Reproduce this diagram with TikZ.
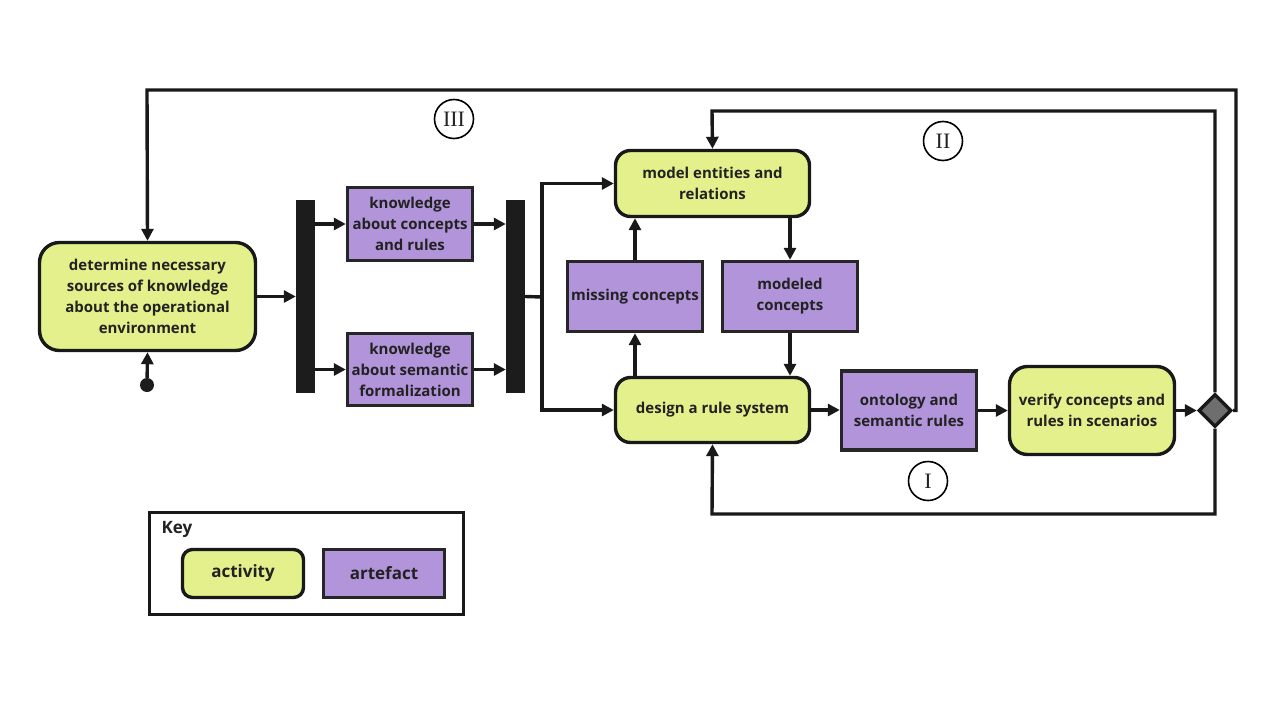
\documentclass[tikz,border=0pt]{standalone}
\usepackage{fontspec}
\setmainfont{Open Sans}
\newfontfamily\numserif{Liberation Serif}
\usetikzlibrary{arrows.meta,shapes.geometric,calc}
\definecolor{actfill}{HTML}{E3F08B}
\definecolor{artfill}{HTML}{B194D9}
\definecolor{txt}{HTML}{222222}
\definecolor{barc}{HTML}{1C1C1C}
\definecolor{diafill}{HTML}{6E6E6E}
\begin{document}
\begin{tikzpicture}[x=1pt,y=-1pt,
  every node/.style={text=txt},
  boxfont/.style={font=\fontsize{15}{21}\selectfont\bfseries},
  keyfont/.style={font=\fontsize{17}{21}\selectfont\bfseries},
  act/.style={boxfont, draw=black!90, line width=3.4pt, fill=actfill, rounded corners=15pt, align=center, inner sep=0pt},
  art/.style={boxfont, draw=black!85, line width=3.4pt, fill=artfill, align=center, inner sep=0pt},
  bar/.style={fill=barc, draw=none, minimum width=19pt, minimum height=193pt, inner sep=0pt},
  flow/.style={line width=3.4pt, draw=black!90, -{Triangle[length=12pt,width=12pt]}},
  plain/.style={line width=3.4pt, draw=black!90},
  num/.style={circle, draw=black, line width=1.6pt, minimum size=39pt, inner sep=0pt, font=\numserif\fontsize{22}{22}\selectfont},
]
\useasboundingbox[fill=white] (0,0) rectangle (1280,720);

% activities
\node[act, minimum width=216pt, minimum height=108pt, rounded corners=20pt] (det) at (147.5,296.5) {determine necessary\\sources of knowledge\\about the operational\\environment};
\node[act, minimum width=194pt, minimum height=66pt] (model) at (712.5,183.5) {model entities and\\relations};
\node[act, minimum width=194pt, minimum height=65pt] (design) at (712.5,410) {design a rule system};
\node[act, minimum width=165pt, minimum height=88pt, rounded corners=18pt] (verify) at (1092,410.5) {verify concepts and\\rules in scenarios};

% artefacts
\node[art, minimum width=125pt, minimum height=73pt] (kc) at (410,224) {knowledge\\about concepts\\and rules};
\node[art, minimum width=125pt, minimum height=72pt] (ks) at (410,369.5) {knowledge\\about semantic\\formalization};
\node[art, minimum width=135pt, minimum height=70pt] (miss) at (635,296.5) {missing concepts};
\node[art, minimum width=135pt, minimum height=70pt] (moded) at (790,296.5) {modeled\\concepts};
\node[art, minimum width=135pt, minimum height=79pt] (onto) at (909,410.5) {ontology and\\semantic rules};

% bars, start, decision
\node[bar] (bar1) at (305.5,296.5) {};
\node[bar] (bar2) at (515.5,296.5) {};
\node[circle, fill=barc, minimum size=14pt, inner sep=0pt] (start) at (147,385) {};
\node[diamond, aspect=1, fill=diafill, draw=black!90, line width=3.4pt, minimum size=33pt, inner sep=0pt] (dia) at (1215,410.5) {};

% bend points
\coordinate (j) at (542,297);
\coordinate (t2) at (712,111);
\coordinate (r3) at (1236,410.5);
\coordinate (t3) at (147,90);
\coordinate (b1) at (712,514);

% connectors
\draw[flow] (start) -- (det.south);
\draw[flow] (det.east) -- (det.east -| bar1.west);
\draw[flow] (kc.west -| bar1.east) -- (kc.west);
\draw[flow] (ks.west -| bar1.east) -- (ks.west);
\draw[flow] (kc.east) -- (kc.east -| bar2.west);
\draw[flow] (ks.east) -- (ks.east -| bar2.west);
\draw[plain] (bar2.east) -- (j);
\draw[flow] (j) |- (model.west);
\draw[flow] (j) |- (design.west);
\draw[flow] (miss.north) -- (miss.north |- model.south);
\draw[flow] (miss.south |- design.north) -- (miss.south);
\draw[flow] (moded.north |- model.south) -- (moded.north);
\draw[flow] (moded.south) -- (moded.south |- design.north);
\draw[flow] (design.east) -- (design.east -| onto.west);
\draw[flow] (onto.east) -- (verify.west);
\draw[flow] (verify.east) -- (dia.west);
\draw[flow] (dia.north) |- (t2) -- (model.north);
\draw[flow] (dia.east) -- (r3) |- (t3) -- (det.north);
\draw[flow] (dia.south) |- (b1) -- (design.south);

% loop labels
\node[num] (n1) at (928,481) {I};
\node[num] (n2) at (943,141) {II};
\node[num] (n3) at (454,119) {III};

% key
\node[draw=black!90, line width=3.4pt, minimum width=314pt, minimum height=102pt, inner sep=0pt] (key) at (306.5,563.5) {};
\node[keyfont, anchor=west] (keyt) at (158,529) {Key};
\node[act, keyfont, minimum width=121pt, minimum height=48pt, rounded corners=10pt] (ka) at (243,573.5) {activity};
\node[art, keyfont, minimum width=121pt, minimum height=48pt] (kr) at (384,573.5) {artefact};
\end{tikzpicture}
\end{document}
